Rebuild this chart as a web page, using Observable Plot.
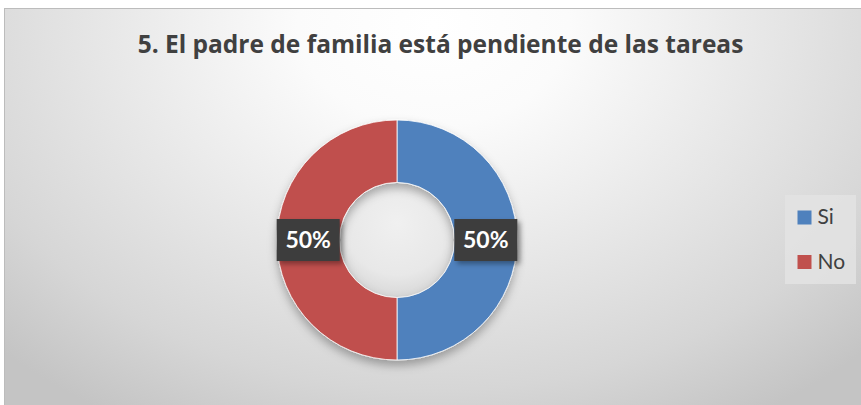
<!DOCTYPE html>
<html>
<head>
<meta charset="utf-8">
<script src="https://cdn.jsdelivr.net/npm/d3@7"></script>
<script src="https://cdn.jsdelivr.net/npm/@observablehq/plot@0.6"></script>
<style>
  html, body { margin: 0; padding: 0; background: #ffffff; }
  #chart {
    position: absolute; left: 4px; top: 8px; width: 857px; height: 397px;
    border-top: 1px solid #bcbcbc; border-left: 1px solid #bcbcbc;
    background: radial-gradient(ellipse 72% 115% at 50% 4%, #ffffff 0%, #fbfbfb 22%, #e6e6e6 55%, #d6d6d6 80%, #c4c4c4 100%);
    overflow: hidden;
  }
  #chart svg { display: block; }
</style>
</head>
<body>
<div id="chart"></div>
<script>
const title = "5. El padre de familia está pendiente de las tareas";
const categories = ["Si", "No"];
const values = [50, 50];
const colors = ["#4f81bd", "#c0504d"];
const labels = ["50%", "50%"];

const data = categories.map((c, i) => ({category: c, value: values[i], label: labels[i]}));
const font = "Lato, 'Open Sans', sans-serif";
const titleFont = "'Open Sans', Lato, sans-serif";
const holeRatio = 0.48;

const donut = (index, scales, vals, dims, context) => {
  const cx = scales.x(0), cy = scales.y(0);
  const rOuter = scales.x(1) - cx;
  const rInner = rOuter * holeRatio;
  const pie = d3.pie().sort(null).value(d => d.value)(data);
  const arc = d3.arc().innerRadius(rInner).outerRadius(rOuter);
  const mid = d3.arc().innerRadius((rInner + rOuter) / 2).outerRadius((rInner + rOuter) / 2);
  const g = d3.create("svg:g");
  const defs = g.append("defs");
  defs.append("filter").attr("id", "sh").attr("x", "-30%").attr("y", "-30%").attr("width", "160%").attr("height", "160%")
    .append("feDropShadow").attr("dx", 0).attr("dy", 5).attr("stdDeviation", 5)
    .attr("flood-color", "#000").attr("flood-opacity", 0.3);
  defs.append("filter").attr("id", "sh2").attr("x", "-30%").attr("y", "-30%").attr("width", "160%").attr("height", "160%")
    .append("feDropShadow").attr("dx", 3).attr("dy", 3).attr("stdDeviation", 2.5)
    .attr("flood-color", "#000").attr("flood-opacity", 0.35);
  const hg = defs.append("radialGradient").attr("id", "hole").attr("cx", "50%").attr("cy", "35%").attr("r", "65%");
  hg.append("stop").attr("offset", "0%").attr("stop-color", "#f0f0f0");
  hg.append("stop").attr("offset", "70%").attr("stop-color", "#e8e8e8");
  hg.append("stop").attr("offset", "100%").attr("stop-color", "#d8d8d8");
  g.append("circle").attr("cx", cx).attr("cy", cy).attr("r", rInner).attr("fill", "url(#hole)");
  const slices = g.append("g").attr("transform", `translate(${cx},${cy})`).attr("filter", "url(#sh)");
  slices.selectAll("path").data(pie).join("path")
    .attr("d", arc)
    .attr("fill", d => scales.color(d.data.category))
    .attr("stroke", "#ffffff").attr("stroke-width", 0.8);
  const lab = g.append("g").attr("transform", `translate(${cx},${cy})`)
    .selectAll("g").data(pie).join("g")
    .attr("transform", d => `translate(${mid.centroid(d)})`);
  lab.append("rect").attr("x", -31.5).attr("y", -21).attr("width", 63).attr("height", 42)
    .attr("fill", "#3d3d3d").attr("filter", "url(#sh2)");
  lab.append("text").attr("text-anchor", "middle").attr("dy", "0.36em")
    .attr("fill", "#ffffff").attr("font-family", font).attr("font-size", 23).attr("font-weight", "bold")
    .text(d => d.data.label);
  return g.node();
};

const legendBox = (index, scales, vals, dims) => {
  const g = d3.create("svg:g");
  g.append("rect").attr("x", dims.width - 76).attr("y", 186).attr("width", 71).attr("height", 89)
    .attr("fill", "#e3e3e3").attr("fill-opacity", 0.85);
  return g.node();
};

const cx = 392, cy = 231, R = 120;
const legendMarks = categories.flatMap((c, i) => [
  Plot.dot([c], {frameAnchor: "right", dx: -57, dy: 10 + 44.5 * i, symbol: "square", r: 7.9, fill: d => d}),
  Plot.text([c], {frameAnchor: "right", dx: -44, dy: 10 + 44.5 * i, textAnchor: "start", lineAnchor: "middle",
    fill: "#404040", fontSize: 21, fontFamily: font, text: d => d})
]);

const plot = Plot.plot({
  width: 856, height: 396,
  margin: 0,
  style: {background: "transparent", overflow: "visible"},
  x: {domain: [-1, 1], range: [cx - R, cx + R], axis: null},
  y: {domain: [-1, 1], range: [cy + R, cy - R], axis: null},
  color: {domain: categories, range: colors},
  marks: [
    Plot.text([title], {frameAnchor: "top", dx: 7, dy: 35.5, lineAnchor: "middle", textAnchor: "middle",
      fill: "#404040", fontSize: 24.5, fontWeight: "bold", fontFamily: titleFont, text: d => d}),
    donut,
    legendBox,
    ...legendMarks
  ]
});
document.getElementById("chart").appendChild(plot);
</script>
</body>
</html>
